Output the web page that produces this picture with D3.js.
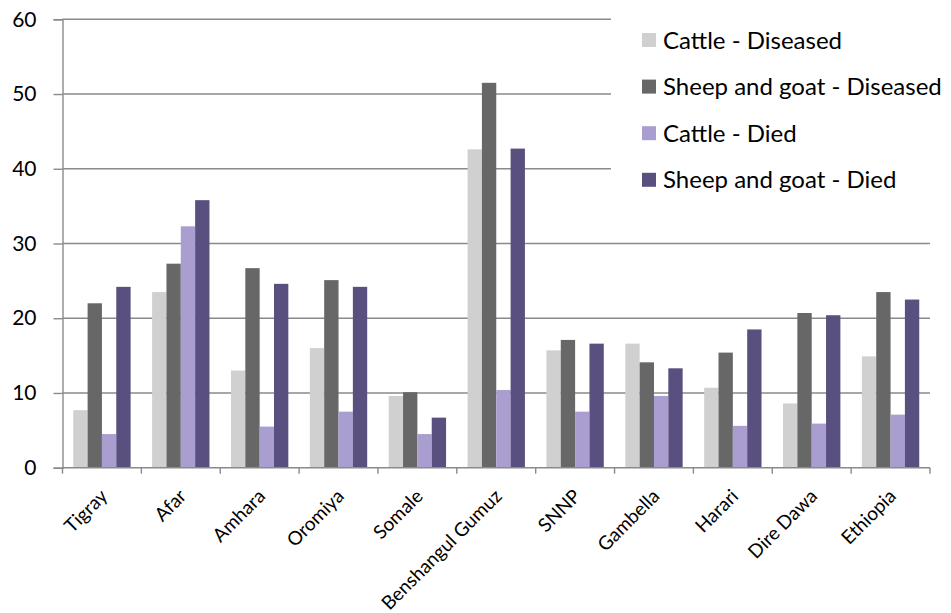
<!DOCTYPE html>
<html>
<head>
<meta charset="utf-8">
<script src="https://cdn.jsdelivr.net/npm/d3@7"></script>
<style>
  body { margin: 0; background: #fff; }
  svg { display: block; }
  text { font-family: Lato, "Open Sans", sans-serif; fill: #000; }
</style>
</head>
<body>
<svg id="chart" width="951" height="613"></svg>
<script>
// Regions and national total
const categories = ["Tigray", "Afar", "Amhara", "Oromiya", "Somale", "Benshangul Gumuz",
  "SNNP", "Gambella", "Harari", "Dire Dawa", "Ethiopia"];

const seriesNames = ["Cattle - Diseased", "Sheep and goat - Diseased", "Cattle - Died", "Sheep and goat - Died"];

// Percent of animals, per region
const cattleDiseased = [7.7, 23.5, 13.0, 16.0, 9.6, 42.6, 15.7, 16.6, 10.7, 8.6, 14.9];
const sheepGoatDiseased = [22.0, 27.3, 26.7, 25.1, 10.1, 51.5, 17.1, 14.1, 15.4, 20.7, 23.5];
const cattleDied = [4.5, 32.3, 5.5, 7.5, 4.5, 10.4, 7.5, 9.6, 5.6, 5.9, 7.1];
const sheepGoatDied = [24.2, 35.8, 24.6, 24.2, 6.7, 42.7, 16.6, 13.3, 18.5, 20.4, 22.5];

const yTicks = [0, 10, 20, 30, 40, 50, 60];

const seriesValues = [cattleDiseased, sheepGoatDiseased, cattleDied, sheepGoatDied];
const colors = ["#d0d0d0", "#676767", "#a99ecf", "#5a507f"];

const svg = d3.select("#chart");

const plotLeft = 62.5, plotRight = 930, plotTop = 19.3, plotBottom = 467.7;

const x0 = d3.scaleBand().domain(categories).range([plotLeft, plotRight]).paddingInner(0).paddingOuter(0);
const x1 = d3.scaleBand().domain(seriesNames).range([0, x0.bandwidth()]).paddingInner(0).paddingOuter(0.75);
const y = d3.scaleLinear().domain([0, 60]).range([plotBottom, plotTop]);

// Horizontal gridlines
svg.append("g")
  .selectAll("line")
  .data(yTicks.filter(d => d > 0))
  .join("line")
  .attr("x1", plotLeft).attr("x2", plotRight)
  .attr("y1", d => y(d)).attr("y2", d => y(d))
  .attr("stroke", "#8a8a8a").attr("stroke-width", 1.4);

// Bars
const groups = svg.append("g")
  .selectAll("g")
  .data(categories)
  .join("g")
  .attr("transform", d => `translate(${x0(d)},0)`);

groups.selectAll("rect")
  .data((c, i) => seriesNames.map((s, k) => ({ s, v: seriesValues[k][i], k })))
  .join("rect")
  .attr("x", d => x1(d.s))
  .attr("width", x1.bandwidth())
  .attr("y", d => y(d.v))
  .attr("height", d => y(0) - y(d.v))
  .attr("fill", d => colors[d.k]);

// Y axis
const yAxis = d3.axisLeft(y).tickValues(yTicks).tickSize(9).tickPadding(17);
const gy = svg.append("g").attr("transform", `translate(${plotLeft},0)`).call(yAxis);
gy.select(".domain").attr("stroke", "#8a8a8a").attr("stroke-width", 1.4);
gy.selectAll(".tick line").attr("stroke", "#8a8a8a").attr("stroke-width", 1.4);
gy.selectAll(".tick text").style("font-size", "21px").style("font-family", "Lato, sans-serif").attr("fill", "#000");

// X axis: ticks at category boundaries
const boundaries = categories.map(c => x0(c)).concat([plotRight]);
const gx = svg.append("g");
gx.append("line")
  .attr("x1", plotLeft).attr("x2", plotRight).attr("y1", plotBottom).attr("y2", plotBottom)
  .attr("stroke", "#8a8a8a").attr("stroke-width", 1.4);
gx.selectAll("line.tick")
  .data(boundaries)
  .join("line")
  .attr("class", "tick")
  .attr("x1", d => d).attr("x2", d => d)
  .attr("y1", plotBottom).attr("y2", plotBottom + 6)
  .attr("stroke", "#8a8a8a").attr("stroke-width", 1.4);

gx.selectAll("text")
  .data(categories)
  .join("text")
  .attr("transform", d => `translate(${x0(d) + x0.bandwidth() / 2 + 2},${plotBottom + 25}) rotate(-45)`)
  .attr("text-anchor", "end")
  .attr("dy", "0.35em")
  .style("font-size", "19px")
  .text(d => d);

// Legend, on a white panel over the upper gridlines
const legend = svg.append("g");
legend.append("rect")
  .attr("x", 611).attr("y", 5).attr("width", 335).attr("height", 200)
  .attr("fill", "#fff");
const items = legend.selectAll("g.item")
  .data(seriesNames)
  .join("g")
  .attr("class", "item")
  .attr("transform", (d, i) => `translate(642,${40 + i * 46.6})`);
items.append("rect")
  .attr("x", 0).attr("y", -7).attr("width", 14).attr("height", 14)
  .attr("fill", (d, i) => colors[i]);
items.append("text")
  .attr("x", 21).attr("dy", "0.36em")
  .style("font-size", "24px")
  .text(d => d);
</script>
</body>
</html>
